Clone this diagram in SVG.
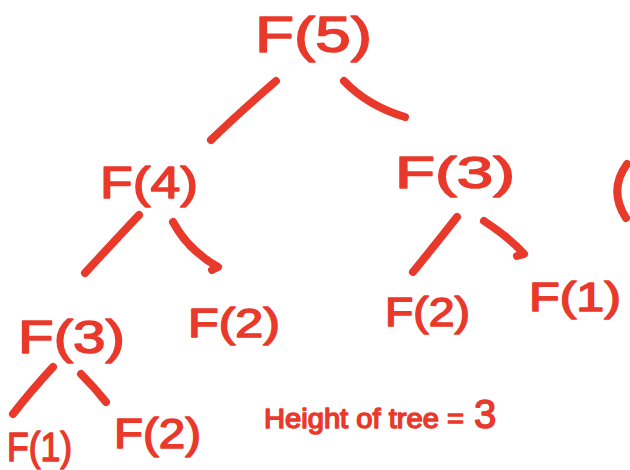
<svg xmlns="http://www.w3.org/2000/svg" width="630" height="470" viewBox="0 0 630 470">
<style>
.t{font-family:"Liberation Sans",Arial,sans-serif;fill:#E9392B;stroke:#E9392B;stroke-width:1.5;stroke-linejoin:round;}
.e{fill:none;stroke:#E9392B;stroke-width:8;stroke-linecap:round;stroke-linejoin:round;}
</style>
<rect width="630" height="470" fill="#FFFFFF"/>
<g id="edges">
<path class="e" d="M276,81 Q240,112 211,140"/>
<path class="e" d="M344,81 Q368,106 405,117"/>
<path class="e" d="M139,215 Q108,248 85,273"/>
<path class="e" d="M173,222 Q188,250 218,267 L212,270"/>
<path class="e" d="M457,217 Q435,245 413,272"/>
<path class="e" d="M484,221 Q510,238 524,254 L517,256"/>
<path class="e" d="M53,367 Q30,392 13,414"/>
<path class="e" d="M81,374 Q95,388 106,402"/>
<path class="e" d="M627,164 Q608,190 626,218" stroke-width="6"/>
</g>
<g id="n5"><text class="t" x="255" y="52" font-size="50" textLength="117" lengthAdjust="spacingAndGlyphs">F(5)</text></g>
<g id="n4"><text class="t" x="100" y="198" font-size="44" textLength="98" lengthAdjust="spacingAndGlyphs">F(4)</text></g>
<g id="n3r"><text class="t" x="395" y="188" font-size="44" textLength="120" lengthAdjust="spacingAndGlyphs">F(3)</text></g>
<g id="n3l"><text class="t" x="18" y="353" font-size="46" textLength="107" lengthAdjust="spacingAndGlyphs">F(3)</text></g>
<g id="n2m"><text class="t" x="188" y="337" font-size="40" textLength="92" lengthAdjust="spacingAndGlyphs">F(2)</text></g>
<g id="n2r"><text class="t" x="385" y="326" font-size="40" textLength="85" lengthAdjust="spacingAndGlyphs">F(2)</text></g>
<g id="n1r"><text class="t" x="529" y="311" font-size="40" textLength="92" lengthAdjust="spacingAndGlyphs">F(1)</text></g>
<g id="n1b"><text class="t" x="7" y="461" font-size="40" textLength="65" lengthAdjust="spacingAndGlyphs">F(1)</text></g>
<g id="n2b"><text class="t" x="114" y="448" font-size="42" textLength="87" lengthAdjust="spacingAndGlyphs">F(2)</text></g>
<g id="note"><text class="t" x="264" y="428" font-size="28" stroke-width="0.8" textLength="200" lengthAdjust="spacingAndGlyphs">Height of tree =</text><text class="t" x="474" y="428" font-size="40" stroke-width="1">3</text></g>
</svg>
